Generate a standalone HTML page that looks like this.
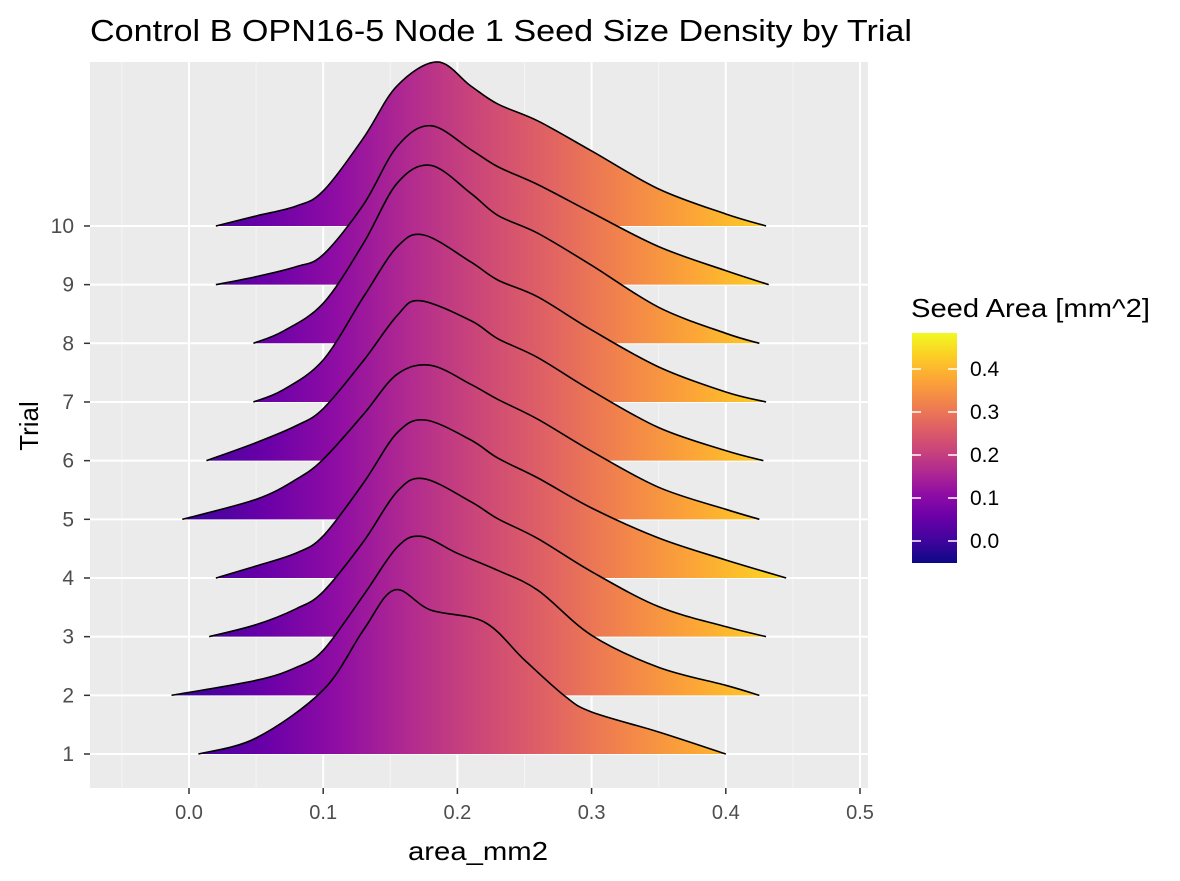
<!DOCTYPE html>
<html><head><meta charset="utf-8"><style>
body{margin:0;background:#fff;font-family:"Liberation Sans",sans-serif}
</style></head><body>
<svg id="c" width="1180" height="876" xmlns="http://www.w3.org/2000/svg">
<defs>
<linearGradient id="plasma" gradientUnits="userSpaceOnUse" x1="122" y1="0" x2="838" y2="0">
<stop offset="0" stop-color="#0d0887"/><stop offset="0.1" stop-color="#41049d"/><stop offset="0.2" stop-color="#6a00a8"/><stop offset="0.3" stop-color="#8f0da4"/><stop offset="0.4" stop-color="#b12a90"/><stop offset="0.5" stop-color="#cc4778"/><stop offset="0.6" stop-color="#e16462"/><stop offset="0.7" stop-color="#f2844b"/><stop offset="0.8" stop-color="#fca636"/><stop offset="0.9" stop-color="#fcce25"/><stop offset="1" stop-color="#f0f921"/>
</linearGradient>
<linearGradient id="plasmaV" x1="0" y1="1" x2="0" y2="0">
<stop offset="0" stop-color="#0d0887"/><stop offset="0.1" stop-color="#41049d"/><stop offset="0.2" stop-color="#6a00a8"/><stop offset="0.3" stop-color="#8f0da4"/><stop offset="0.4" stop-color="#b12a90"/><stop offset="0.5" stop-color="#cc4778"/><stop offset="0.6" stop-color="#e16462"/><stop offset="0.7" stop-color="#f2844b"/><stop offset="0.8" stop-color="#fca636"/><stop offset="0.9" stop-color="#fcce25"/><stop offset="1" stop-color="#f0f921"/>
</linearGradient>
</defs>
<rect x="90" y="62" width="778" height="726" fill="#EBEBEB"/>
<g id="grid"></g>
<g id="ridges"></g>
<g id="axes"></g>
<text x="90" y="41" font-size="31" textLength="822" lengthAdjust="spacingAndGlyphs" fill="#000">Control B OPN16-5 Node 1 Seed Size Density by Trial</text>
<text x="478" y="860" font-size="26" text-anchor="middle" textLength="140" lengthAdjust="spacingAndGlyphs" fill="#000">area_mm2</text>
<text transform="translate(38,426) rotate(-90)" font-size="26" text-anchor="middle" fill="#000">Trial</text>
<g>
<text x="911" y="317" font-size="26" textLength="239" lengthAdjust="spacingAndGlyphs" fill="#000">Seed Area [mm^2]</text>
<rect x="912" y="333" width="45" height="230" fill="url(#plasmaV)"/>
<g id="legticks"></g>
</g>
</svg>
<script>
const xTicks=[0.0,0.1,0.2,0.3,0.4,0.5];
const xTickLabels=["0.0","0.1","0.2","0.3","0.4","0.5"];
const trials=[1,2,3,4,5,6,7,8,9,10];
const legendTicks=[0.0,0.1,0.2,0.3,0.4];
const t1x=[0.007,0.05,0.1,0.13,0.153,0.18,0.22,0.25,0.28,0.3,0.35,0.4];
const t1h=[0,16,64,124,164,144,132,94,58,42,22,0];
const t2x=[-0.013,0.05,0.08,0.1,0.13,0.155,0.173,0.2,0.23,0.26,0.3,0.35,0.4,0.425];
const t2h=[0,15,28,45,100,148,159,142,125,105,60,28,10,0];
const t3x=[0.015,0.05,0.08,0.1,0.13,0.155,0.175,0.21,0.23,0.26,0.3,0.35,0.4,0.43];
const t3h=[0,12,28,45,95,145,158,135,118,98,65,30,10,0];
const t4x=[0.02,0.05,0.08,0.1,0.13,0.155,0.176,0.21,0.23,0.26,0.3,0.35,0.4,0.445];
const t4h=[0,12,25,42,95,145,158,138,120,100,70,40,18,0];
const t5x=[-0.005,0.05,0.08,0.1,0.13,0.155,0.18,0.21,0.23,0.26,0.3,0.35,0.4,0.425];
const t5h=[0,20,40,60,105,145,154,135,120,100,68,32,10,0];
const t6x=[0.013,0.05,0.08,0.1,0.13,0.155,0.172,0.21,0.23,0.26,0.3,0.35,0.4,0.428];
const t6h=[0,18,35,52,100,145,160,140,122,103,70,33,10,0];
const t7x=[0.048,0.07,0.1,0.13,0.155,0.175,0.21,0.23,0.26,0.3,0.35,0.4,0.43];
const t7h=[0,12,42,105,155,167,140,122,105,72,35,10,0];
const t8x=[0.048,0.07,0.1,0.13,0.155,0.18,0.21,0.23,0.26,0.3,0.35,0.4,0.425];
const t8h=[0,12,40,100,160,178,150,128,110,78,36,10,0];
const t9x=[0.02,0.05,0.08,0.1,0.13,0.155,0.18,0.21,0.23,0.26,0.3,0.35,0.4,0.432];
const t9h=[0,8,18,30,80,138,159,135,118,100,72,38,14,0];
const t10x=[0.02,0.05,0.08,0.1,0.13,0.155,0.185,0.21,0.23,0.26,0.3,0.35,0.4,0.43];
const t10h=[0,10,20,35,88,140,164,140,122,105,75,37,12,0];
const seriesX=[t1x,t2x,t3x,t4x,t5x,t6x,t7x,t8x,t9x,t10x];
const seriesH=[t1h,t2h,t3h,t4h,t5h,t6h,t7h,t8h,t9h,t10h];

const NS="http://www.w3.org/2000/svg";
const X=v=>189+v*1342;
const Y=t=>754-(t-1)*58.67;
const H=h=>h;
const LY=v=>541-v*430;
function mk(tag,attrs,parent){const e=document.createElementNS(NS,tag);for(const k in attrs)e.setAttribute(k,attrs[k]);parent.appendChild(e);return e;}
const grid=document.getElementById('grid'),axes=document.getElementById('axes'),ridges=document.getElementById('ridges');
for(let v=-0.05;v<0.5;v+=0.1){const l=mk('line',{x1:X(v),x2:X(v),y1:62,y2:788,stroke:'#F5F5F5','stroke-width':1},grid);

}
xTicks.forEach((v,i)=>{const l=mk('line',{x1:X(v),x2:X(v),y1:62,y2:788,stroke:'#fff','stroke-width':2},grid);


const tk=mk('line',{x1:X(v),x2:X(v),y1:788,y2:794,stroke:'#333','stroke-width':1.5},axes);


const t=mk('text',{x:X(v),y:819,'font-size':20,'text-anchor':'middle',fill:'#4D4D4D'},axes);t.textContent=xTickLabels[i];

});
trials.forEach(tr=>{const l=mk('line',{x1:90,x2:868,y1:Y(tr),y2:Y(tr),stroke:'#fff','stroke-width':2},grid);


const tk=mk('line',{x1:84,x2:90,y1:Y(tr),y2:Y(tr),stroke:'#333','stroke-width':1.5},axes);


const t=mk('text',{x:74,y:Y(tr)+7,'font-size':21,'text-anchor':'end',fill:'#4D4D4D'},axes);t.textContent=String(tr);

});
function smooth(pts){let d='M'+pts[0][0]+','+pts[0][1];for(let i=0;i<pts.length-1;i++){const p0=pts[Math.max(i-1,0)],p1=pts[i],p2=pts[i+1],p3=pts[Math.min(i+2,pts.length-1)];
const c1=[p1[0]+(p2[0]-p0[0])/6,p1[1]+(p2[1]-p0[1])/6],c2=[p2[0]-(p3[0]-p1[0])/6,p2[1]-(p3[1]-p1[1])/6];
d+=' C'+c1[0]+','+c1[1]+' '+c2[0]+','+c2[1]+' '+p2[0]+','+p2[1];}return d;}
for(let i=trials.length-1;i>=0;i--){const xs=seriesX[i],hs=seriesH[i],b=Y(trials[i]);
const pts=xs.map((x,j)=>[X(x),b-H(hs[j])]);const d=smooth(pts);
const f=mk('path',{d:d+' L'+X(xs[xs.length-1])+','+b+' L'+X(xs[0])+','+b+' Z',fill:'url(#plasma)',stroke:'none'},ridges);


const ln=mk('path',{d:d,fill:'none',stroke:'#000','stroke-width':1.6},ridges);

}
const lg=document.getElementById('legticks');
legendTicks.forEach(v=>{mk('line',{x1:912,x2:921,y1:LY(v),y2:LY(v),stroke:'#fff','stroke-width':1.5},lg);mk('line',{x1:948,x2:957,y1:LY(v),y2:LY(v),stroke:'#fff','stroke-width':1.5},lg);
const t=mk('text',{x:970,y:LY(v)+7,'font-size':21,fill:'#000'},lg);t.textContent=v.toFixed(1);

});
</script>
</body></html>
